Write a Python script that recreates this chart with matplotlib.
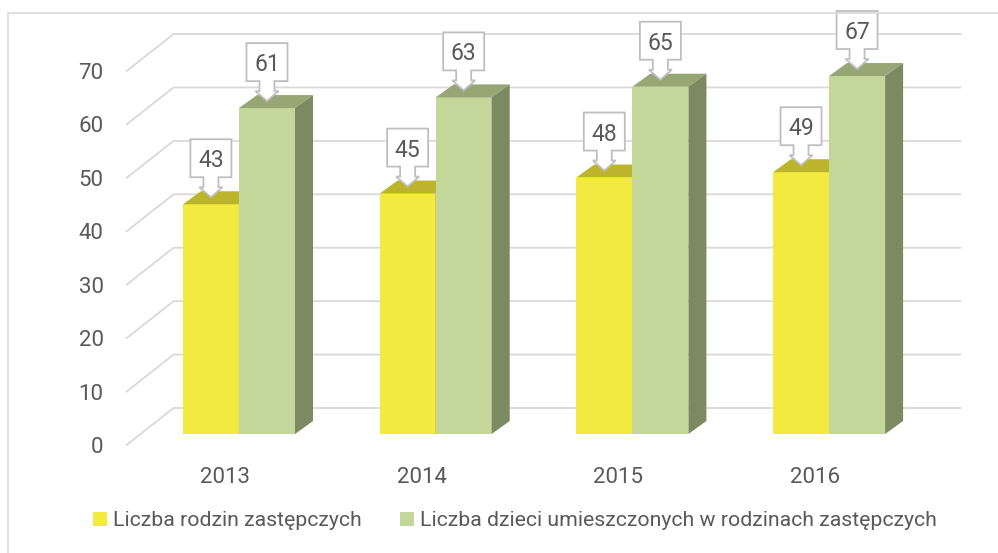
import matplotlib.pyplot as plt
import matplotlib.transforms as mtransforms
from matplotlib.patches import Polygon, Patch, Rectangle

plt.rcParams['font.family'] = ['Roboto', 'DejaVu Sans']

# dane
lata = ['2013', '2014', '2015', '2016']
rodziny = [43, 45, 48, 49]
dzieci = [61, 63, 65, 67]
serie = ['Liczba rodzin zastępczych',
         'Liczba dzieci umieszczonych w rodzinach zastępczych']
osie_y = [0, 10, 20, 30, 40, 50, 60, 70]

# kolory (przód, góra, bok)
zolty = ['#F2E941', '#BDB42D', '#A69E28']
zielony = ['#C4D79B', '#97A675', '#7B8A60']
siatka = '#D9D9D9'
tekst = '#595959'

W, H = 998, 553
fig = plt.figure(figsize=(W / 100, H / 100), dpi=100)

# os w plaszczyznie przednich scian slupkow
lewo, prawo = 140.6, 927.4
dol, gora = 434, 60
ax = fig.add_axes([lewo / W, 1 - dol / H, (prawo - lewo) / W, (dol - gora) / H])
ax.set_xlim(-0.5, 3.5)
ax.set_ylim(0, 70)
ax.set_axis_off()

ppx = (prawo - lewo) / 4.0    # piksele na kategorie
ppy = (dol - gora) / 70.0     # piksele na jednostke


def dx(p):
    return p / ppx


def dy(p):
    return p / ppy


# przesuniecia glebokosci (piksele)
przod = (-14, -11)
sciana = (33, 26)
glab = (18, 13)

# linie siatki: podloga -> tylna sciana
for v in osie_y:
    xs = [-0.5 + dx(przod[0]), -0.5 + dx(sciana[0]), 3.5 + dx(sciana[0])]
    ys = [v + dy(przod[1]), v + dy(sciana[1]), v + dy(sciana[1])]
    ax.plot(xs, ys, color=siatka, lw=1.3, clip_on=False, zorder=1)
    tr = mtransforms.offset_copy(ax.transData, fig, x=przod[0] - 23, y=przod[1], units='dots')
    ax.text(-0.5, v, str(v), transform=tr, ha='right', va='center_baseline',
            fontsize=16, color=tekst)

szer = 0.285
poz = list(range(len(lata)))


def slupek(x0, v, kol, z):
    x1 = x0 + szer
    ax.bar(x0, v, width=szer, align='edge', color=kol[0], lw=0, zorder=z)
    gorna = [(x0, v), (x1, v), (x1 + dx(glab[0]), v + dy(glab[1])), (x0 + dx(glab[0]), v + dy(glab[1]))]
    bok = [(x1, 0), (x1, v), (x1 + dx(glab[0]), v + dy(glab[1])), (x1 + dx(glab[0]), dy(glab[1]))]
    ax.add_patch(Polygon(gorna, closed=True, fc=kol[1], lw=0, zorder=z, clip_on=False))
    ax.add_patch(Polygon(bok, closed=True, fc=kol[2], lw=0, zorder=z, clip_on=False))


def etykieta(xc, v):
    # dymek ze strzalka w dol, wymiary w pikselach
    t = 7
    wierz = [(0, t), (-11.5, t + 10), (-7.5, t + 10), (-7.5, t + 20), (-20.5, t + 20),
             (-20.5, t + 58), (20.5, t + 58), (20.5, t + 20), (7.5, t + 20), (7.5, t + 10),
             (11.5, t + 10)]
    tr = mtransforms.ScaledTranslation(xc, v, ax.transData)
    ax.add_patch(Polygon(wierz, closed=True, fc='white', ec='#BFBFBF', lw=1.3,
                         transform=tr, clip_on=False, zorder=10))
    trt = mtransforms.offset_copy(ax.transData, fig, x=0, y=t + 39, units='dots')
    ax.text(xc, v, str(v), transform=trt, ha='center', va='center_baseline',
            fontsize=16.5, color=tekst, zorder=11)


for i in poz:
    slupek(i - szer, rodziny[i], zolty, 3)
    slupek(i, dzieci[i], zielony, 4)
    etykieta(i - szer / 2, rodziny[i])
    etykieta(i + szer / 2, dzieci[i])
    tr = mtransforms.offset_copy(ax.transData, fig, x=przod[0], y=przod[1] - 30, units='dots')
    ax.text(i, 0, lata[i], transform=tr, ha='center', va='center_baseline',
            fontsize=16, color=tekst)

ax.set_xlim(-0.5, 3.5)
ax.set_ylim(0, 70)

# legenda
fs = 15.3
fpx = fs * 100 / 72
uchwyty = [Patch(fc=zolty[0], lw=0), Patch(fc=zielony[0], lw=0)]
fig.legend(uchwyty, serie, loc='center', bbox_to_anchor=(515 / W, 1 - 521 / H), ncol=2,
           frameon=False, fontsize=fs, labelcolor=tekst,
           handlelength=14 / fpx, handleheight=14 / fpx, handletextpad=6 / fpx,
           columnspacing=38 / fpx)

# ramka wykresu
fig.add_artist(Rectangle((8 / W, -0.1), 1.2, 1 - 13 / H + 0.1, transform=fig.transFigure,
                         fill=False, ec=siatka, lw=1.2))

fig.savefig('out.png', dpi=100)
